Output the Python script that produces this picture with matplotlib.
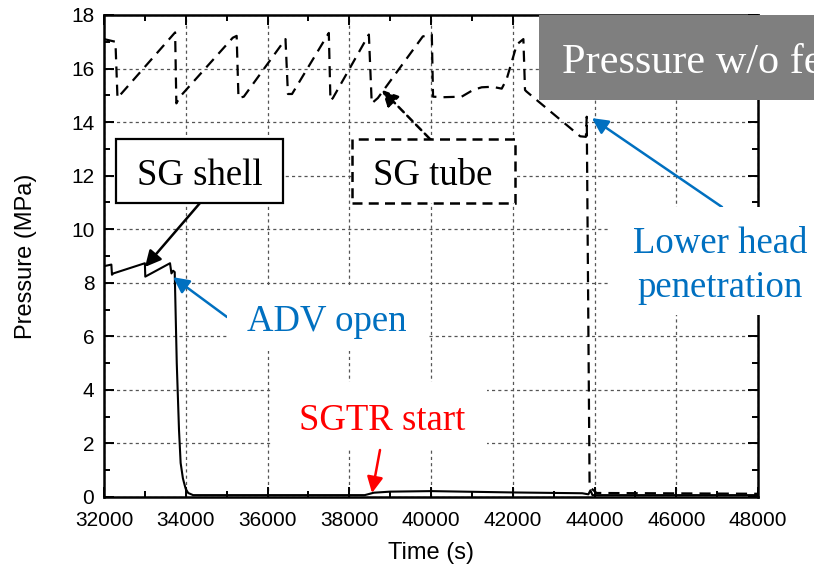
import matplotlib
matplotlib.use('Agg')
import matplotlib.pyplot as plt
from matplotlib.patches import Rectangle
from matplotlib.ticker import MultipleLocator

# ---- data ----
shell_t = [32000, 32180, 32195, 32230, 33000, 33010, 33615, 33650, 33690, 33730,
           33780, 33835, 33875, 33930, 33960, 34000, 34060, 34180, 38380, 38600,
           39000, 40000, 42000, 43700, 43850, 43900, 43950, 48000]
shell_p = [8.62, 8.68, 8.3, 8.35, 8.73, 8.23, 8.73, 8.35, 8.45, 8.4,
           5.0, 2.5, 1.27, 0.7, 0.52, 0.3, 0.15, 0.07, 0.07, 0.16,
           0.2, 0.22, 0.17, 0.14, 0.1, 0.25, 0.07, 0.07]

tube_t = [32000, 32280, 32330, 33740, 33770, 33860, 35150, 35245, 35290, 35420,
          36440, 36500, 36600, 37500, 37540, 37600, 38480, 38550, 38700, 39800,
          40020, 40050, 40300, 40750, 41030, 41240, 41500, 41730, 41850, 42100,
          42260, 42300, 42330, 43650, 43790, 43810, 43880, 44050, 48000]
tube_p = [17.1, 17.0, 14.9, 17.35, 14.7, 14.95, 17.15, 17.22, 14.9, 14.95,
          17.1, 15.05, 15.05, 17.33, 14.8, 14.9, 17.27, 14.7, 14.9, 17.2,
          17.27, 14.95, 14.93, 14.95, 15.2, 15.3, 15.32, 15.25, 15.6, 16.9,
          17.1, 15.2, 15.15, 13.47, 13.45, 14.2, 0.38, 0.15, 0.12]

x_label = "Time (s)"
y_label = "Pressure (MPa)"

W, H = 814, 574
plt.rcParams['font.family'] = ['Liberation Sans', 'DejaVu Sans']
SERIF = ['Liberation Serif', 'DejaVu Serif']
BLUE = '#0070C0'

fig = plt.figure(figsize=(W / 100, H / 100), dpi=100)
ax = fig.add_axes([104 / W, 1 - 497 / H, 654 / W, 482 / H])

ax.plot(tube_t, tube_p, color='black', lw=1.6, linestyle=(0, (5, 3.2)), zorder=3)
ax.plot(shell_t, shell_p, color='black', lw=1.5, zorder=4)

ax.set_xlim(32000, 48000)
ax.set_ylim(0, 18)
ax.xaxis.set_major_locator(MultipleLocator(2000))
ax.xaxis.set_minor_locator(MultipleLocator(1000))
ax.yaxis.set_major_locator(MultipleLocator(2))
ax.yaxis.set_minor_locator(MultipleLocator(1))
ax.tick_params(which='both', direction='in', top=True, right=True, width=1.4)
ax.tick_params(which='major', length=7)
ax.tick_params(which='minor', length=4)
ax.tick_params(axis='x', pad=10, labelsize=15)
ax.tick_params(axis='y', pad=7, labelsize=15)
for s in ax.spines.values():
    s.set_linewidth(1.8)
ax.grid(True, which='major', color='#555555', linestyle=(0, (2.5, 2.5)), lw=0.9)

ax.set_xlabel(x_label, fontsize=17)
ax.set_ylabel(y_label, fontsize=17)
ax.xaxis.set_label_coords(0.5, (497 - 542) / 482)
ax.yaxis.set_label_coords((37 - 104) / 654, 0.5)


def box(x0, y0, x1, y1, **kw):
    fig.add_artist(Rectangle((x0 / W, 1 - y1 / H), (x1 - x0) / W, (y1 - y0) / H,
                             transform=fig.transFigure, **kw))


def ftext(x, y, s, **kw):
    fig.text(x / W, 1 - y / H, s, zorder=7, **kw)


def arrow(tip, tail, color, ls='-'):
    ax.annotate('', xy=tip, xycoords='data', xytext=(tail[0], H - tail[1]),
                textcoords='figure pixels', annotation_clip=False, zorder=6,
                arrowprops=dict(arrowstyle='-|>', color=color, lw=1.8, linestyle=ls,
                                shrinkA=0, shrinkB=0, mutation_scale=24))


# white label backgrounds
box(116, 139, 283, 203, facecolor='white', edgecolor='black', lw=1.6, zorder=5)
box(352, 139, 515, 203, facecolor='white', edgecolor='black', lw=1.8,
    linestyle=(0, (4, 2.5)), zorder=5)
box(227, 286, 427, 351, facecolor='white', edgecolor='none', zorder=5)
box(273, 382, 487, 448, facecolor='white', edgecolor='none', zorder=5)
box(610, 207, 814, 315, facecolor='white', edgecolor='none', zorder=5)
box(539, 15, 814, 100, facecolor='#7f7f7f', edgecolor='none', zorder=5)

ftext(200, 185, "SG shell", family=SERIF, fontsize=26.5, ha='center', va='baseline')
ftext(433, 185, "SG tube", family=SERIF, fontsize=26.5, ha='center', va='baseline')
ftext(327, 331, "ADV open", family=SERIF, fontsize=26.5, color=BLUE, ha='center', va='baseline')
ftext(382, 430, "SGTR start", family=SERIF, fontsize=26.5, color='red', ha='center', va='baseline')
ftext(720, 253, "Lower head", family=SERIF, fontsize=26.5, color=BLUE, ha='center', va='baseline')
ftext(720, 297, "penetration", family=SERIF, fontsize=26.5, color=BLUE, ha='center', va='baseline')
ftext(562, 73, "Pressure w/o feed", family=SERIF, fontsize=30.4, color='white', ha='left', va='baseline')

arrow((33003, 8.59), (200, 203), 'black')
arrow((38801, 15.2), (430, 139), 'black', ls=(0, (3, 2)))
arrow((33688, 8.21), (227, 317), BLUE)
arrow((43937, 14.15), (722, 207), BLUE)
arrow((38557, 0.15), (380, 450), 'red')

fig.savefig('out.png', dpi=100)
